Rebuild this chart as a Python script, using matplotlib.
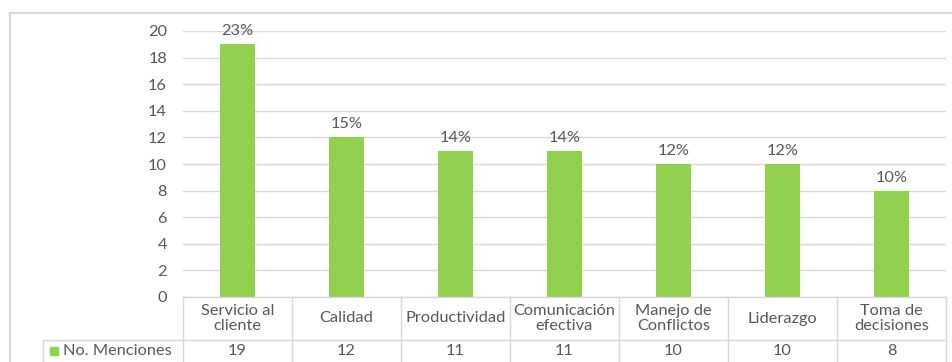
import matplotlib.pyplot as plt
from matplotlib.patches import Rectangle

categories = ['Servicio al\ncliente', 'Calidad', 'Productividad', 'Comunicación\nefectiva',
              'Manejo de\nConflictos', 'Liderazgo', 'Toma de\ndecisiones']
menciones = [19, 12, 11, 11, 10, 10, 8]
serie = 'No. Menciones'

verde = '#92D050'
gris_txt = '#595959'
gris_lin = '#D9D9D9'

plt.rcParams['font.family'] = ['Lato', 'DejaVu Sans']
fs = 11.8

W, H = 953, 362
fig = plt.figure(figsize=(W / 100, H / 100), dpi=100)

# area de trazado en pixeles
x0, x1, ytop, ybot = 183, 946, 31, 297
ax = fig.add_axes([x0 / W, (H - ybot) / H, (x1 - x0) / W, (ybot - ytop) / H])

n = len(categories)
pos = list(range(n))
ax.bar(pos, menciones, width=0.32, color=verde, zorder=3)

total = sum(menciones)
for i, v in enumerate(menciones):
    ax.text(i, v + 0.45, f'{round(100 * v / total)}%', ha='center', va='bottom',
            fontsize=fs, color=gris_txt)

ax.set_xlim(-0.5, n - 0.5)
ax.set_ylim(0, 20)
ax.set_yticks(range(0, 21, 2))
ax.tick_params(axis='y', length=0, pad=11.5, labelsize=fs, labelcolor=gris_txt)
ax.set_xticks([])
ax.grid(axis='y', color=gris_lin, linewidth=1, zorder=0)
for s in ax.spines.values():
    s.set_visible(False)

# tabla de datos bajo el eje
fx = fig.transFigure
def px(x, y):
    return x / W, 1 - y / H

def linea(a, b):
    fig.add_artist(plt.Line2D(*zip(px(*a), px(*b)), color=gris_lin, lw=1, transform=fx))

row1, row2 = 340, 364
col = [x0 + (x1 - x0) * k / n for k in range(n + 1)]
linea((x0, ybot), (x1, ybot))
linea((43, row1), (x1, row1))
linea((43, row2), (x1, row2))
for c in col:
    linea((c, ybot), (c, row2))
linea((43, row1), (43, row2))

for i, (cat, v) in enumerate(zip(categories, menciones)):
    cx = (col[i] + col[i + 1]) / 2
    fig.text(*px(cx, (ybot + row1) / 2), cat, ha='center', va='center', fontsize=fs,
             color=gris_txt, linespacing=1.05)
    fig.text(*px(cx, 351), str(v), ha='center', va='center', fontsize=fs, color=gris_txt)

fig.add_artist(Rectangle(px(50, 355), 8 / W, 8 / H, color=verde, transform=fx))
fig.text(*px(63, 351), serie, ha='left', va='center', fontsize=fs, color=gris_txt)

# borde del grafico
fig.add_artist(plt.Line2D(*zip(px(10, 13), px(960, 13)), color=gris_lin, lw=1.5, transform=fx))
fig.add_artist(plt.Line2D(*zip(px(10, 13), px(10, 370)), color=gris_lin, lw=1.5, transform=fx))

fig.savefig('out.png', dpi=100)
